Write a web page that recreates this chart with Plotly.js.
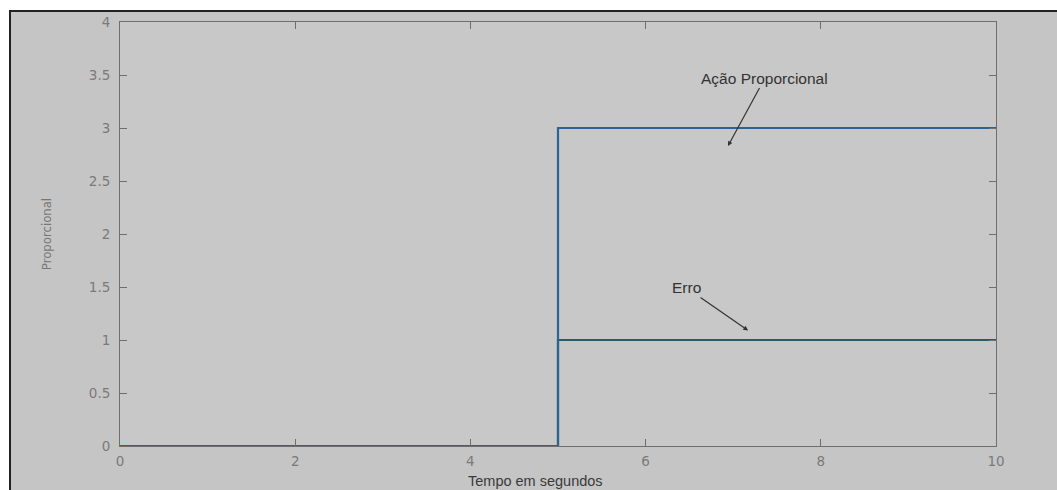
<!DOCTYPE html>
<html>
<head>
<meta charset="utf-8">
<script src="https://cdn.plot.ly/plotly-3.0.1.min.js"></script>
<style>
  html, body { margin: 0; padding: 0; background: #ffffff; width: 1057px; height: 490px; overflow: hidden; }
  #frame { position: absolute; left: 9px; top: 10px; width: 1048px; height: 480px; border-left: 2px solid #222; border-top: 2px solid #222; box-sizing: border-box; background: #c5c5c5; }
  #chart { position: absolute; left: 0; top: 0; width: 1046px; height: 478px; }
</style>
</head>
<body>
<div id="frame"><div id="chart"></div></div>
<script>
// Data
const tempo = [0, 5, 5, 10];
const acaoProporcional = [0, 0, 3, 3];
const erro = [0, 0, 1, 1];
const xTicks = [0, 2, 4, 6, 8, 10];
const yTicks = [0, 0.5, 1, 1.5, 2, 2.5, 3, 3.5, 4];
const labelAcao = "Ação Proporcional";
const labelErro = "Erro";
const xTitle = "Tempo em segundos";
const yTitle = "Proporcional";

const traces = [
  { x: tempo, y: erro, type: 'scatter', mode: 'lines', name: labelErro,
    line: { color: '#2c5c62', width: 2.2 } },
  { x: tempo, y: acaoProporcional, type: 'scatter', mode: 'lines', name: labelAcao,
    line: { color: '#2b6396', width: 2.2 } }
];

const tickFont = { family: 'DejaVu Sans, sans-serif', size: 13.5, color: '#7a7a7a' };

const axisCommon = {
  showgrid: false, zeroline: false, showline: true, linecolor: '#6e6e6e', linewidth: 1,
  mirror: 'ticks', ticks: 'inside', ticklen: 7, tickcolor: '#6e6e6e',
  tickfont: tickFont
};

const layout = {
  width: 1046, height: 478,
  margin: { l: 109, r: 61, t: 10, b: 44 },
  paper_bgcolor: '#c5c5c5', plot_bgcolor: '#c8c8c8',
  showlegend: false,
  xaxis: Object.assign({}, axisCommon, {
    range: [0, 10], tickvals: xTicks, ticktext: xTicks.map(String), ticklabelstandoff: 3
  }),
  yaxis: Object.assign({}, axisCommon, {
    range: [0, 4], tickvals: yTicks, ticktext: yTicks.map(String), ticklabelstandoff: 6,
    title: { text: yTitle, standoff: 34,
      font: { family: 'DejaVu Sans Condensed, Liberation Sans Narrow, sans-serif', size: 13, color: '#777777' } }
  }),
  annotations: [
    { x: 0.474, y: -0.083, xref: 'paper', yref: 'paper', text: xTitle, showarrow: false,
      xanchor: 'center', yanchor: 'middle',
      font: { family: 'Liberation Sans, Arial, sans-serif', size: 14.5, color: '#3a3a3a' } },
    { x: 6.94, y: 2.83, xref: 'x', yref: 'y', text: labelAcao, showarrow: true,
      ax: 37, ay: -68, arrowhead: 2, arrowsize: 0.8, arrowwidth: 1.2, arrowcolor: '#333',
      font: { family: 'Liberation Sans, Arial, sans-serif', size: 15.5, color: '#333' } },
    { x: 7.17, y: 1.09, xref: 'x', yref: 'y', text: labelErro, showarrow: true,
      ax: -62, ay: -43, arrowhead: 2, arrowsize: 0.8, arrowwidth: 1.2, arrowcolor: '#333',
      font: { family: 'Liberation Sans, Arial, sans-serif', size: 15.5, color: '#333' } }
  ]
};

Plotly.newPlot('chart', traces, layout, { displayModeBar: false, staticPlot: true });
</script>
</body>
</html>
